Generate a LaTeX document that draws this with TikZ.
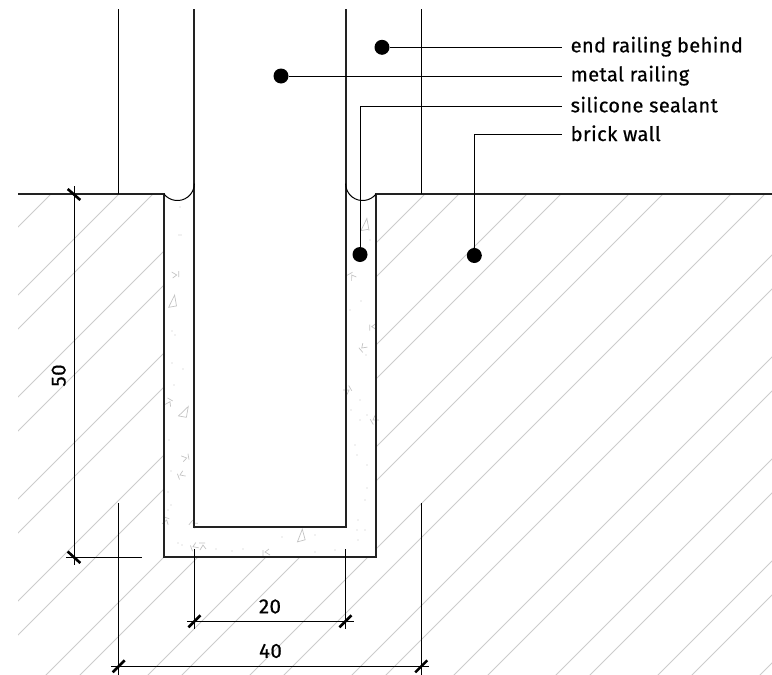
\documentclass[tikz,border=0pt]{standalone}
\usepackage{fontspec}
\setmainfont[RawFeature={embolden=0.6},LetterSpace=2]{Fira Sans}
\definecolor{hatchgray}{HTML}{CCCCCC}
\definecolor{specgray}{HTML}{C4C4C4}
\definecolor{sect}{HTML}{222222}
\tikzset{
  hatchline/.style={draw=hatchgray,line width=0.8pt},
  thinline/.style={draw=black,line width=1pt},
  sectline/.style={draw=sect,line width=1.8pt},
  railline/.style={draw=sect,line width=2pt},
  tick/.style={draw=black,line width=2.6pt},
  dot/.style={circle,fill=black,draw=none,minimum size=15pt,inner sep=0pt,outer sep=0pt},
  lab/.style={anchor=base west,inner sep=0pt,font=\fontsize{20}{20}\selectfont},
  dimtext/.style={anchor=center,inner sep=0pt,font=\fontsize{20.5}{20.5}\selectfont},
  spec/.style={draw=specgray,line width=0.7pt},
  specdot/.style={fill=specgray,draw=none}
}
\begin{document}
\begin{tikzpicture}[x=1pt,y=-1pt]
\useasboundingbox (0,0) rectangle (772,675);
% hatching
\begin{scope}
\clip (18,194) rectangle (772,675);
\foreach \k in {-4,...,12}{
  \pgfmathsetmacro\cA{765+102*(\k-4)}
  \pgfmathsetmacro\cB{731+102*(\k-4)}
  \draw[hatchline] (\cA,194) -- ({\cA-600},794);
  \draw[hatchline] (\cB,194) -- ({\cB-600},794);
}
\end{scope}
\fill[white] (164,194) rectangle (376,557);
% speckles of the sealant
\foreach \x/\y/\r in {171.7/301.7/10,183.3/411.7/-10,300/536/15,364/225/10}{
  \draw[spec,rotate around={\r:(\x,\y)}] (\x-4,\y+5) -- (\x+4,\y-6) -- (\x+4,\y+5) -- cycle;
}
\foreach \x/\y/\r in {176.7/275/0,170/401.7/60,351.7/275/120,371.7/326.7/180,361.7/348/220,349/390/30,186.7/458/10,180/475/200,166.7/520/70,193/523/140,193/546.7/200,203/545/90,265/552/180,373/420/210}{
  \draw[spec,rotate around={\r:(\x,\y)}] (\x-5,\y-3) -- (\x,\y) -- (\x-4,\y+3) (\x+2,\y-4) -- (\x+2,\y+2);
}
\foreach \x/\y in {180/207,181/235,179/235,172/331,175/335,172/363,183/369,174/385,169/440,171/471,168/492,171/505,168/510,178/543,182/545,216/549,232/551,243/549,282/537,315/535,315/552,335/550,358/540,358/520,365/500,365/530,367/465,357/455,367/488,355/445,357/530,367/415,366/355,360/400,350/310,361/301,351/410,360/420,369/230,370/240}{
  \fill[specdot] (\x,\y) circle (0.6);
}
% section lines
\draw[sectline] (18,194) -- (164,194) -- (164,557) -- (376,557) -- (376,194) -- (772,194);
\draw[railline] (194.2,9) -- (194.2,527) -- (345.7,527) -- (345.7,9);
% sealant fillets
\draw[thinline] (164,194) arc[start angle=142,end angle=0,radius=17];
\draw[thinline] (376,194) arc[start angle=38,end angle=180,radius=17];
% end railing
\draw[thinline] (118.7,9) -- (118.7,194);
\draw[thinline] (421.3,9) -- (421.3,194);
\draw[thinline] (118.7,503) -- (118.7,675);
\draw[thinline] (421.3,503) -- (421.3,675);
% dimension 50
\draw[thinline] (74.3,186) -- (74.3,565);
\draw[thinline] (66,557) -- (142,557);
\draw[tick] (67.7,189) -- (80.3,200);
\draw[tick] (67.7,551.5) -- (80.3,563);
\node[dimtext,rotate=90] (d50) at (58.7,375.5) {50};
% dimension 20
\draw[thinline] (194.5,549.3) -- (194.5,629);
\draw[thinline] (345.5,549.3) -- (345.5,629);
\draw[thinline] (187,621.3) -- (353.7,621.3);
\draw[tick] (188.5,627.3) -- (200.5,615.3);
\draw[tick] (339.5,627.3) -- (351.5,615.3);
\node[dimtext] (d20) at (270,606.5) {20};
% dimension 40
\draw[thinline] (111,666.3) -- (429,666.3);
\draw[tick] (112.7,672.3) -- (124.7,660.3);
\draw[tick] (415.3,672.3) -- (427.3,660.3);
\node[dimtext] (d40) at (270.5,651) {40};
% labels
\node[lab] (l1) at (570.5,52.3) {end railing behind};
\node[lab] (l2) at (570.5,81.3) {metal railing};
\node[lab] (l3) at (570.5,112.3) {silicone sealant};
\node[lab] (l4) at (570.5,141) {brick wall};
\coordinate (e1) at (562,47.3);
\coordinate (e2) at (562,76);
\coordinate (e3) at (562,106.7);
\coordinate (e4) at (562,134);
\node[dot] (p1) at (382,47.3) {};
\node[dot] (p2) at (281,76) {};
\node[dot] (p3) at (360,254.5) {};
\node[dot] (p4) at (474.3,255.5) {};
\draw[thinline] (p1) -- (e1);
\draw[thinline] (p2) -- (e2);
\draw[thinline] (p3) |- (e3);
\draw[thinline] (p4) |- (e4);
\end{tikzpicture}
\end{document}
